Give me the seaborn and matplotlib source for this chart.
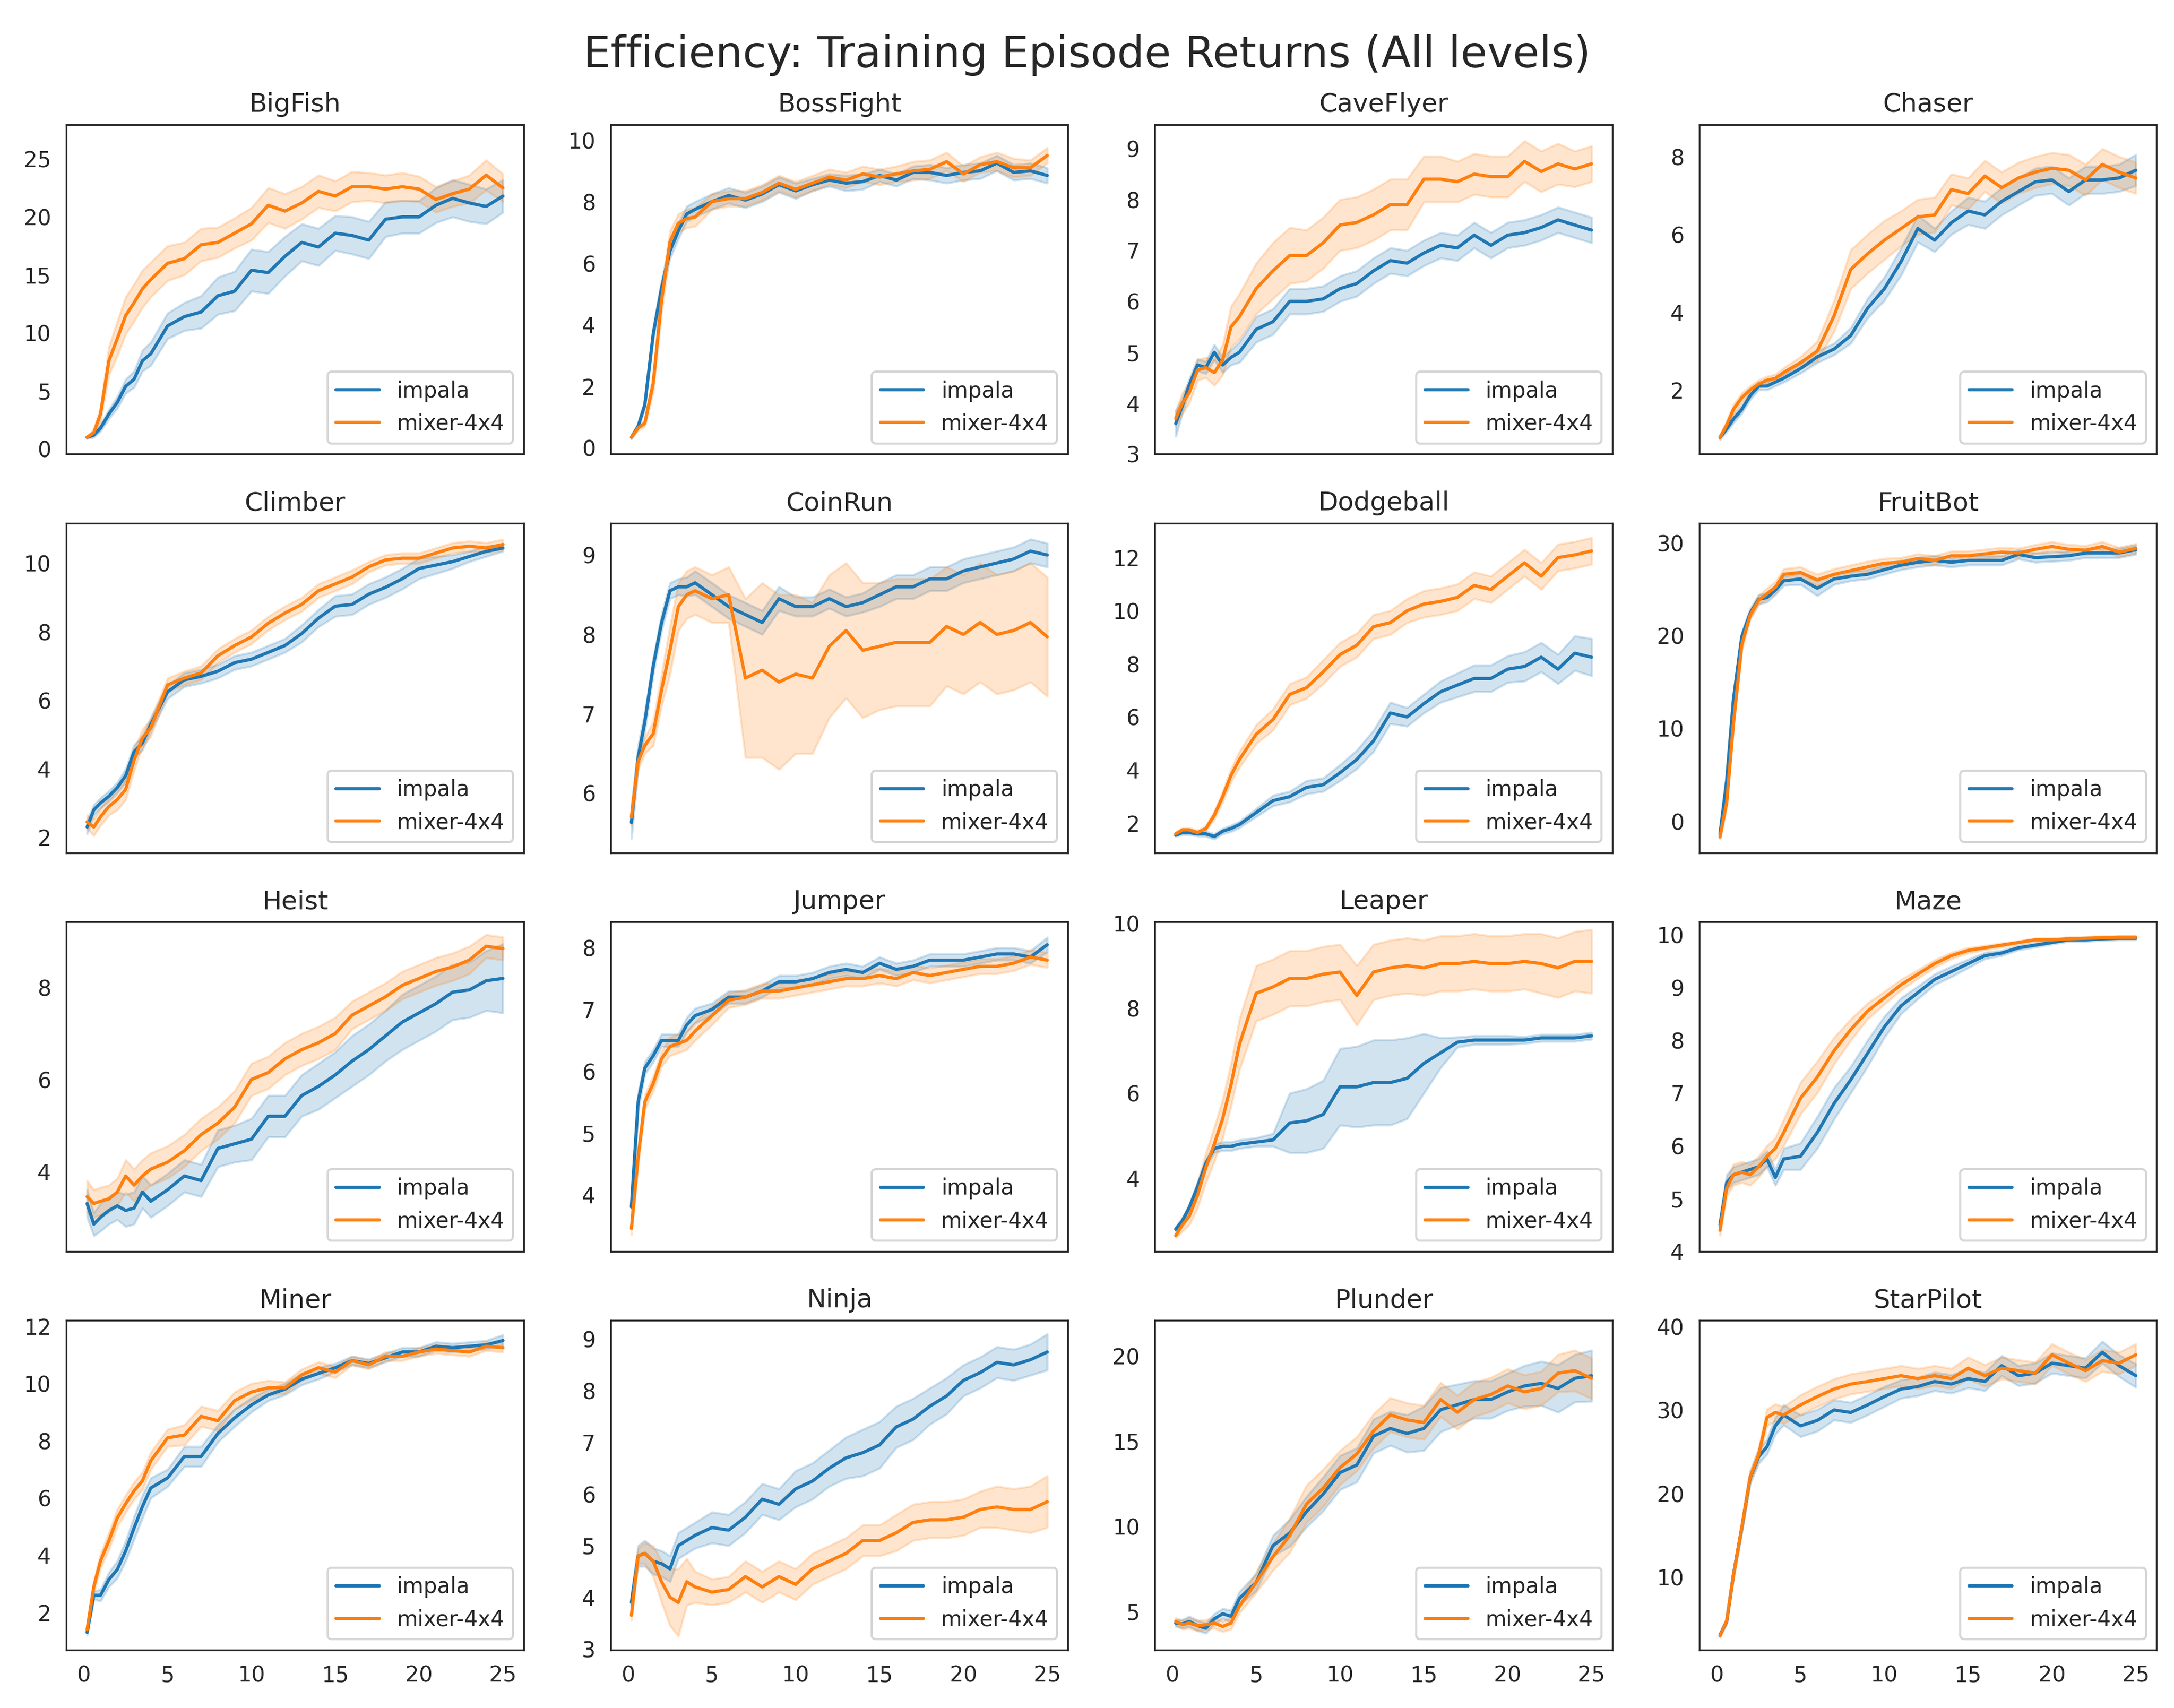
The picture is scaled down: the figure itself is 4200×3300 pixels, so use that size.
#!/usr/bin/env python3
"""
Procgen efficiency plot: training episode returns, impala vs mixer-4x4
"""

import pandas as pd
import matplotlib
matplotlib.use("Agg")
import matplotlib.pyplot as plt
import seaborn as sns

# environment steps (M) at which the curves were read
STEPS = [0.2, 0.6, 1, 1.5, 2, 2.5, 3, 3.5, 4, 5, 6, 7, 8, 9, 10,
         11, 12, 13, 14, 15, 16, 17, 18, 19, 20, 21, 22, 23, 24, 25]

AGENTS = ["impala", "mixer-4x4"]
ENVS = ["BigFish", "BossFight", "CaveFlyer", "Chaser",
        "Climber", "CoinRun", "Dodgeball", "FruitBot",
        "Heist", "Jumper", "Leaper", "Maze",
        "Miner", "Ninja", "Plunder", "StarPilot"]

# mean return and half width of the shaded band, per env and agent
bigfish_impala = [1.0, 1.2, 1.8, 3.0, 4.0, 5.4, 6.0, 7.6, 8.2, 10.6, 11.4, 11.8, 13.2, 13.6, 15.4,
                  15.2, 16.6, 17.8, 17.4, 18.6, 18.4, 18.0, 19.8, 20.0, 20.0, 21.0, 21.6, 21.2, 20.9, 21.8]
bigfish_impala_sd = [0.1, 0.2, 0.3, 0.4, 0.5, 0.6, 0.7, 0.9, 1.0, 1.1, 1.2, 1.4, 1.6, 1.7, 1.8,
                     1.8, 1.7, 1.6, 1.6, 1.5, 1.6, 1.6, 1.5, 1.4, 1.4, 1.5, 1.6, 1.6, 1.5, 1.4]
bigfish_mixer = [1.0, 1.4, 3.0, 7.6, 9.5, 11.5, 12.6, 13.8, 14.6, 16.0, 16.4, 17.6, 17.8, 18.6, 19.4,
                 21.0, 20.5, 21.2, 22.2, 21.8, 22.6, 22.6, 22.4, 22.6, 22.4, 21.5, 22.0, 22.4, 23.6, 22.5]
bigfish_mixer_sd = [0.1, 0.3, 0.6, 1.2, 1.5, 1.6, 1.6, 1.6, 1.5, 1.5, 1.4, 1.4, 1.3, 1.3, 1.4,
                    1.5, 1.5, 1.4, 1.4, 1.3, 1.3, 1.2, 1.2, 1.2, 1.1, 1.1, 1.1, 1.2, 1.3, 1.2]

bossfight_impala = [0.35, 0.7, 1.4, 3.7, 5.2, 6.4, 7.05, 7.6, 7.75, 8.0, 8.2, 8.05, 8.25, 8.55, 8.35,
                    8.55, 8.7, 8.6, 8.65, 8.85, 8.7, 8.95, 8.95, 8.85, 8.95, 9.0, 9.25, 8.95, 9.0, 8.85]
bossfight_impala_sd = [0.05, 0.08, 0.12, 0.2, 0.25, 0.25, 0.25, 0.25, 0.25, 0.25, 0.25, 0.25, 0.25, 0.25, 0.25,
                       0.2, 0.2, 0.25, 0.25, 0.2, 0.2, 0.2, 0.25, 0.25, 0.25, 0.25, 0.25, 0.25, 0.25, 0.25]
bossfight_mixer = [0.35, 0.65, 0.8, 2.1, 4.8, 6.7, 7.3, 7.45, 7.5, 8.0, 8.1, 8.1, 8.3, 8.6, 8.4,
                   8.6, 8.8, 8.7, 8.9, 8.8, 8.9, 9.0, 9.05, 9.3, 8.9, 9.2, 9.3, 9.1, 9.1, 9.5]
bossfight_mixer_sd = [0.05, 0.08, 0.1, 0.3, 0.4, 0.35, 0.3, 0.3, 0.3, 0.25, 0.25, 0.25, 0.25, 0.25, 0.25,
                      0.25, 0.25, 0.25, 0.25, 0.25, 0.25, 0.3, 0.3, 0.3, 0.25, 0.25, 0.3, 0.3, 0.25, 0.25]

caveflyer_impala = [3.6, 3.95, 4.35, 4.75, 4.7, 5.0, 4.75, 4.9, 5.0, 5.45, 5.6, 6.0, 6.0, 6.05, 6.25,
                    6.35, 6.6, 6.8, 6.75, 6.95, 7.1, 7.05, 7.3, 7.1, 7.3, 7.35, 7.45, 7.6, 7.5, 7.4]
caveflyer_impala_sd = [0.25, 0.15, 0.12, 0.12, 0.12, 0.15, 0.15, 0.15, 0.2, 0.25, 0.25, 0.25, 0.25, 0.25, 0.25,
                       0.25, 0.25, 0.25, 0.25, 0.25, 0.25, 0.25, 0.25, 0.25, 0.25, 0.25, 0.25, 0.25, 0.25, 0.25]
caveflyer_mixer = [3.7, 4.0, 4.2, 4.65, 4.7, 4.6, 4.85, 5.5, 5.7, 6.25, 6.6, 6.9, 6.9, 7.15, 7.5,
                   7.55, 7.7, 7.9, 7.9, 8.4, 8.4, 8.35, 8.5, 8.45, 8.45, 8.75, 8.55, 8.7, 8.6, 8.7]
caveflyer_mixer_sd = [0.15, 0.2, 0.2, 0.2, 0.2, 0.25, 0.3, 0.4, 0.45, 0.5, 0.55, 0.55, 0.5, 0.5, 0.5,
                      0.5, 0.5, 0.5, 0.5, 0.45, 0.45, 0.4, 0.4, 0.4, 0.4, 0.4, 0.4, 0.4, 0.35, 0.35]

chaser_impala = [0.78, 1.0, 1.25, 1.5, 1.85, 2.1, 2.1, 2.2, 2.3, 2.55, 2.85, 3.05, 3.4, 4.1, 4.6,
                 5.3, 6.15, 5.85, 6.3, 6.6, 6.5, 6.85, 7.1, 7.35, 7.4, 7.1, 7.4, 7.4, 7.45, 7.65]
chaser_impala_sd = [0.05, 0.08, 0.1, 0.1, 0.1, 0.1, 0.1, 0.1, 0.1, 0.12, 0.15, 0.15, 0.2, 0.25, 0.3,
                    0.35, 0.35, 0.3, 0.3, 0.35, 0.35, 0.35, 0.35, 0.35, 0.35, 0.35, 0.35, 0.35, 0.35, 0.4]
chaser_mixer = [0.78, 1.1, 1.5, 1.8, 2.0, 2.15, 2.25, 2.3, 2.45, 2.7, 3.0, 3.9, 5.1, 5.5, 5.85,
                6.15, 6.45, 6.5, 7.15, 7.05, 7.5, 7.2, 7.45, 7.6, 7.7, 7.65, 7.4, 7.8, 7.6, 7.45]
chaser_mixer_sd = [0.05, 0.1, 0.12, 0.12, 0.1, 0.1, 0.1, 0.1, 0.12, 0.15, 0.25, 0.4, 0.5, 0.5, 0.5,
                   0.45, 0.45, 0.45, 0.4, 0.4, 0.4, 0.4, 0.4, 0.4, 0.4, 0.4, 0.4, 0.4, 0.4, 0.4]

climber_impala = [2.3, 2.8, 3.0, 3.2, 3.45, 3.8, 4.5, 4.75, 5.3, 6.25, 6.6, 6.7, 6.85, 7.1, 7.2,
                  7.4, 7.6, 7.95, 8.4, 8.75, 8.8, 9.1, 9.3, 9.55, 9.85, 9.95, 10.05, 10.2, 10.35, 10.45]
climber_impala_sd = [0.2, 0.15, 0.15, 0.15, 0.15, 0.2, 0.2, 0.2, 0.2, 0.2, 0.2, 0.2, 0.2, 0.2, 0.2,
                     0.2, 0.2, 0.25, 0.25, 0.3, 0.3, 0.3, 0.3, 0.3, 0.3, 0.25, 0.2, 0.15, 0.15, 0.1]
climber_mixer = [2.45, 2.3, 2.6, 2.9, 3.1, 3.4, 4.25, 4.9, 5.2, 6.45, 6.65, 6.8, 7.3, 7.6, 7.85,
                 8.25, 8.55, 8.8, 9.2, 9.4, 9.6, 9.9, 10.1, 10.15, 10.15, 10.3, 10.45, 10.5, 10.45, 10.55]
climber_mixer_sd = [0.2, 0.25, 0.25, 0.25, 0.3, 0.3, 0.3, 0.25, 0.25, 0.2, 0.2, 0.2, 0.2, 0.2, 0.2,
                    0.2, 0.2, 0.2, 0.2, 0.2, 0.2, 0.15, 0.15, 0.15, 0.15, 0.15, 0.15, 0.15, 0.15, 0.15]

coinrun_impala = [5.63, 6.45, 6.9, 7.6, 8.15, 8.55, 8.6, 8.6, 8.65, 8.5, 8.35, 8.25, 8.15, 8.45, 8.35,
                  8.35, 8.45, 8.35, 8.4, 8.5, 8.6, 8.6, 8.7, 8.7, 8.8, 8.85, 8.9, 8.95, 9.05, 9.0]
coinrun_impala_sd = [0.2, 0.15, 0.12, 0.1, 0.1, 0.1, 0.1, 0.12, 0.15, 0.15, 0.15, 0.15, 0.15, 0.15, 0.12,
                     0.12, 0.12, 0.12, 0.12, 0.15, 0.15, 0.15, 0.15, 0.15, 0.15, 0.15, 0.15, 0.15, 0.15, 0.15]
coinrun_mixer = [5.7, 6.4, 6.6, 6.75, 7.3, 7.8, 8.35, 8.5, 8.55, 8.45, 8.5, 7.45, 7.55, 7.4, 7.5,
                 7.45, 7.85, 8.05, 7.8, 7.85, 7.9, 7.9, 7.9, 8.1, 8.0, 8.15, 8.0, 8.05, 8.15, 7.97]
coinrun_mixer_sd = [0.1, 0.1, 0.1, 0.15, 0.2, 0.3, 0.3, 0.3, 0.3, 0.3, 0.35, 1.0, 1.1, 1.1, 1.0,
                    0.95, 0.9, 0.85, 0.85, 0.8, 0.8, 0.8, 0.8, 0.75, 0.75, 0.75, 0.75, 0.75, 0.75, 0.75]

dodgeball_impala = [1.55, 1.65, 1.65, 1.6, 1.6, 1.5, 1.7, 1.8, 1.95, 2.4, 2.85, 3.0, 3.35, 3.45, 3.9,
                    4.4, 5.1, 6.15, 6.0, 6.5, 6.95, 7.2, 7.45, 7.45, 7.8, 7.9, 8.25, 7.8, 8.4, 8.25]
dodgeball_impala_sd = [0.05, 0.08, 0.08, 0.08, 0.1, 0.1, 0.1, 0.12, 0.12, 0.15, 0.2, 0.2, 0.25, 0.25, 0.3,
                       0.35, 0.4, 0.4, 0.35, 0.35, 0.4, 0.45, 0.5, 0.5, 0.5, 0.55, 0.55, 0.55, 0.65, 0.7]
dodgeball_mixer = [1.6, 1.75, 1.75, 1.65, 1.8, 2.3, 3.0, 3.8, 4.4, 5.35, 5.9, 6.85, 7.1, 7.7, 8.35,
                   8.7, 9.4, 9.55, 10.0, 10.25, 10.35, 10.5, 10.95, 10.8, 11.3, 11.8, 11.3, 12.0, 12.1, 12.25]
dodgeball_mixer_sd = [0.05, 0.08, 0.08, 0.08, 0.1, 0.15, 0.2, 0.25, 0.3, 0.35, 0.4, 0.4, 0.4, 0.45, 0.45,
                      0.45, 0.45, 0.45, 0.45, 0.5, 0.5, 0.5, 0.5, 0.5, 0.5, 0.5, 0.5, 0.5, 0.5, 0.5]

fruitbot_impala = [-1.4, 4.4, 13.1, 19.9, 22.4, 23.9, 24.1, 24.9, 25.9, 26.1, 25.1, 26.1, 26.4, 26.6, 27.1,
                   27.6, 27.9, 28.1, 27.9, 28.1, 28.1, 28.1, 28.75, 28.4, 28.5, 28.6, 28.9, 28.9, 28.9, 29.25]
fruitbot_impala_sd = [0.2, 0.5, 0.6, 0.5, 0.5, 0.5, 0.5, 0.5, 0.5, 0.6, 0.8, 0.6, 0.5, 0.5, 0.5,
                      0.5, 0.5, 0.5, 0.5, 0.5, 0.5, 0.5, 0.5, 0.5, 0.5, 0.5, 0.5, 0.5, 0.5, 0.5]
fruitbot_mixer = [-1.7, 2.0, 10.5, 19.0, 22.2, 23.8, 24.5, 25.2, 26.6, 26.8, 26.0, 26.6, 27.0, 27.4, 27.8,
                  27.9, 28.3, 28.1, 28.6, 28.6, 28.8, 29.0, 28.9, 29.3, 29.6, 29.3, 29.2, 29.6, 29.0, 29.4]
fruitbot_mixer_sd = [0.2, 0.5, 0.6, 0.6, 0.5, 0.5, 0.6, 0.6, 0.6, 0.6, 0.6, 0.6, 0.6, 0.6, 0.5,
                     0.5, 0.5, 0.5, 0.5, 0.5, 0.5, 0.5, 0.5, 0.5, 0.5, 0.5, 0.5, 0.5, 0.5, 0.5]

heist_impala = [3.3, 2.85, 3.0, 3.15, 3.25, 3.15, 3.2, 3.55, 3.35, 3.6, 3.9, 3.8, 4.5, 4.6, 4.7,
                5.2, 5.2, 5.65, 5.85, 6.1, 6.4, 6.65, 6.95, 7.25, 7.45, 7.65, 7.9, 7.95, 8.15, 8.2]
heist_impala_sd = [0.3, 0.25, 0.3, 0.3, 0.3, 0.35, 0.35, 0.35, 0.35, 0.35, 0.35, 0.35, 0.4, 0.4, 0.45,
                   0.45, 0.45, 0.45, 0.5, 0.5, 0.55, 0.55, 0.55, 0.6, 0.6, 0.6, 0.6, 0.6, 0.65, 0.75]
heist_mixer = [3.45, 3.3, 3.35, 3.4, 3.55, 3.9, 3.7, 3.9, 4.05, 4.2, 4.45, 4.8, 5.05, 5.4, 6.0,
               6.15, 6.45, 6.65, 6.8, 7.0, 7.4, 7.6, 7.8, 8.05, 8.2, 8.35, 8.45, 8.6, 8.9, 8.85]
heist_mixer_sd = [0.35, 0.3, 0.3, 0.3, 0.3, 0.35, 0.35, 0.35, 0.35, 0.35, 0.35, 0.35, 0.35, 0.35, 0.35,
                  0.35, 0.35, 0.35, 0.35, 0.35, 0.3, 0.3, 0.3, 0.3, 0.3, 0.3, 0.3, 0.3, 0.25, 0.25]

jumper_impala = [3.8, 5.5, 6.05, 6.25, 6.5, 6.5, 6.5, 6.75, 6.9, 7.0, 7.2, 7.2, 7.3, 7.45, 7.45,
                 7.5, 7.6, 7.65, 7.6, 7.75, 7.65, 7.7, 7.8, 7.8, 7.8, 7.85, 7.9, 7.9, 7.85, 8.05]
jumper_impala_sd = [0.2, 0.15, 0.1, 0.1, 0.1, 0.1, 0.1, 0.12, 0.12, 0.1, 0.1, 0.1, 0.1, 0.1, 0.1,
                    0.1, 0.1, 0.1, 0.1, 0.1, 0.1, 0.1, 0.1, 0.1, 0.1, 0.1, 0.1, 0.1, 0.1, 0.12]
jumper_mixer = [3.45, 4.6, 5.5, 5.8, 6.2, 6.4, 6.45, 6.5, 6.65, 6.9, 7.15, 7.2, 7.3, 7.3, 7.35,
                7.4, 7.45, 7.5, 7.5, 7.55, 7.5, 7.6, 7.55, 7.6, 7.65, 7.7, 7.7, 7.75, 7.85, 7.8]
jumper_mixer_sd = [0.1, 0.15, 0.12, 0.12, 0.12, 0.15, 0.15, 0.15, 0.15, 0.15, 0.12, 0.12, 0.12, 0.12, 0.12,
                   0.12, 0.12, 0.12, 0.12, 0.12, 0.12, 0.12, 0.12, 0.12, 0.12, 0.12, 0.12, 0.12, 0.12, 0.12]

leaper_impala = [2.8, 3.0, 3.3, 3.8, 4.35, 4.7, 4.75, 4.75, 4.8, 4.85, 4.9, 5.3, 5.35, 5.5, 6.15,
                 6.15, 6.25, 6.25, 6.35, 6.7, 6.95, 7.2, 7.25, 7.25, 7.25, 7.25, 7.3, 7.3, 7.3, 7.35]
leaper_impala_sd = [0.05, 0.08, 0.08, 0.1, 0.1, 0.1, 0.1, 0.1, 0.1, 0.1, 0.15, 0.7, 0.75, 0.8, 0.9,
                    0.95, 1.0, 1.0, 0.95, 0.7, 0.35, 0.12, 0.1, 0.1, 0.1, 0.08, 0.08, 0.08, 0.08, 0.08]
leaper_mixer = [2.65, 2.9, 3.1, 3.6, 4.25, 4.8, 5.4, 6.2, 7.15, 8.35, 8.5, 8.7, 8.7, 8.8, 8.85,
                8.3, 8.85, 8.95, 9.0, 8.95, 9.05, 9.05, 9.1, 9.05, 9.05, 9.1, 9.05, 8.95, 9.1, 9.1]
leaper_mixer_sd = [0.05, 0.15, 0.2, 0.3, 0.35, 0.4, 0.45, 0.5, 0.6, 0.65, 0.65, 0.65, 0.65, 0.65, 0.65,
                   0.7, 0.65, 0.65, 0.65, 0.65, 0.65, 0.65, 0.65, 0.65, 0.65, 0.65, 0.7, 0.7, 0.7, 0.75]

maze_impala = [4.5, 5.3, 5.45, 5.5, 5.55, 5.6, 5.75, 5.4, 5.75, 5.8, 6.25, 6.8, 7.25, 7.75, 8.25,
               8.65, 8.9, 9.15, 9.3, 9.45, 9.6, 9.65, 9.75, 9.8, 9.85, 9.9, 9.9, 9.92, 9.93, 9.93]
maze_impala_sd = [0.1, 0.15, 0.15, 0.15, 0.15, 0.15, 0.15, 0.15, 0.2, 0.25, 0.3, 0.3, 0.25, 0.25, 0.2,
                  0.15, 0.12, 0.1, 0.1, 0.08, 0.06, 0.05, 0.04, 0.04, 0.03, 0.03, 0.03, 0.03, 0.03, 0.03]
maze_mixer = [4.4, 5.2, 5.45, 5.5, 5.45, 5.6, 5.8, 5.95, 6.25, 6.9, 7.3, 7.8, 8.2, 8.55, 8.8,
              9.05, 9.25, 9.45, 9.6, 9.7, 9.75, 9.8, 9.85, 9.9, 9.9, 9.92, 9.93, 9.94, 9.95, 9.95]
maze_mixer_sd = [0.1, 0.15, 0.2, 0.2, 0.2, 0.2, 0.2, 0.2, 0.25, 0.3, 0.3, 0.25, 0.2, 0.15, 0.12,
                 0.1, 0.08, 0.07, 0.06, 0.05, 0.04, 0.04, 0.03, 0.03, 0.03, 0.03, 0.03, 0.03, 0.03, 0.03]

miner_impala = [1.3, 2.6, 2.6, 3.15, 3.5, 4.15, 4.95, 5.7, 6.35, 6.7, 7.45, 7.45, 8.25, 8.8, 9.25,
                9.6, 9.8, 10.15, 10.35, 10.55, 10.8, 10.7, 10.9, 11.1, 11.1, 11.3, 11.25, 11.3, 11.35, 11.5]
miner_impala_sd = [0.1, 0.15, 0.2, 0.25, 0.3, 0.35, 0.4, 0.4, 0.35, 0.3, 0.35, 0.35, 0.3, 0.3, 0.25,
                   0.2, 0.2, 0.2, 0.2, 0.15, 0.15, 0.15, 0.15, 0.15, 0.15, 0.15, 0.15, 0.15, 0.15, 0.2]
miner_mixer = [1.4, 2.9, 3.8, 4.5, 5.3, 5.8, 6.25, 6.6, 7.3, 8.1, 8.2, 8.85, 8.7, 9.4, 9.7,
               9.85, 9.85, 10.3, 10.55, 10.4, 10.8, 10.65, 10.95, 10.95, 11.1, 11.2, 11.15, 11.1, 11.3, 11.25]
miner_mixer_sd = [0.1, 0.2, 0.25, 0.3, 0.3, 0.3, 0.3, 0.3, 0.3, 0.3, 0.35, 0.35, 0.35, 0.3, 0.3,
                  0.25, 0.2, 0.2, 0.2, 0.2, 0.15, 0.15, 0.15, 0.15, 0.15, 0.15, 0.15, 0.15, 0.15, 0.15]

ninja_impala = [3.9, 4.8, 4.85, 4.7, 4.65, 4.55, 5.0, 5.1, 5.2, 5.35, 5.3, 5.55, 5.9, 5.8, 6.1,
                6.25, 6.5, 6.7, 6.8, 6.95, 7.3, 7.45, 7.7, 7.9, 8.2, 8.35, 8.55, 8.5, 8.6, 8.75]
ninja_impala_sd = [0.15, 0.2, 0.25, 0.25, 0.25, 0.25, 0.25, 0.25, 0.25, 0.3, 0.3, 0.3, 0.3, 0.3, 0.35,
                   0.35, 0.35, 0.4, 0.45, 0.45, 0.4, 0.4, 0.35, 0.35, 0.3, 0.3, 0.3, 0.3, 0.3, 0.35]
ninja_mixer = [3.65, 4.8, 4.85, 4.7, 4.3, 4.0, 3.9, 4.3, 4.2, 4.1, 4.15, 4.4, 4.2, 4.4, 4.25,
               4.55, 4.7, 4.85, 5.1, 5.1, 5.25, 5.45, 5.5, 5.5, 5.55, 5.7, 5.75, 5.7, 5.7, 5.85]
ninja_mixer_sd = [0.1, 0.15, 0.2, 0.3, 0.4, 0.55, 0.65, 0.45, 0.3, 0.25, 0.25, 0.3, 0.3, 0.3, 0.3,
                  0.3, 0.3, 0.3, 0.3, 0.3, 0.35, 0.35, 0.35, 0.35, 0.35, 0.35, 0.4, 0.4, 0.45, 0.5]

plunder_impala = [4.3, 4.25, 4.4, 4.15, 4.0, 4.55, 4.85, 4.7, 5.75, 6.7, 8.85, 9.6, 10.85, 11.9, 13.15,
                  13.6, 15.3, 15.75, 15.45, 15.75, 16.85, 17.15, 17.45, 17.45, 17.9, 18.25, 18.4, 18.1, 18.7, 18.85]
plunder_impala_sd = [0.2, 0.25, 0.3, 0.3, 0.3, 0.3, 0.3, 0.35, 0.4, 0.5, 0.6, 0.8, 0.9, 1.0, 1.0,
                     1.0, 1.0, 1.0, 1.1, 1.3, 1.3, 1.2, 1.1, 1.1, 1.1, 1.2, 1.3, 1.4, 1.4, 1.5]
plunder_mixer = [4.4, 4.2, 4.3, 4.15, 4.2, 4.3, 4.1, 4.3, 5.3, 6.7, 8.2, 9.45, 11.3, 12.25, 13.45,
                 14.25, 15.6, 16.55, 16.25, 16.1, 17.45, 16.7, 17.45, 17.75, 18.25, 17.9, 18.1, 19.0, 19.15, 18.7]
plunder_mixer_sd = [0.2, 0.25, 0.3, 0.3, 0.3, 0.3, 0.3, 0.35, 0.4, 0.6, 0.8, 1.0, 1.1, 1.1, 1.0,
                    1.0, 1.0, 1.0, 1.0, 1.0, 1.0, 1.0, 1.0, 1.0, 1.0, 1.0, 1.0, 1.1, 1.2, 1.2]

starpilot_impala = [3.1, 4.7, 10.3, 15.9, 21.9, 24.4, 25.6, 28.1, 29.4, 28.1, 28.75, 30.0, 29.7, 30.6, 31.6,
                    32.5, 32.8, 33.4, 33.1, 33.75, 33.4, 35.3, 34.1, 34.4, 35.6, 35.3, 35.0, 36.9, 35.3, 34.1]
starpilot_impala_sd = [0.2, 0.3, 0.5, 0.6, 0.7, 0.8, 0.9, 1.0, 1.2, 1.3, 1.3, 1.2, 1.2, 1.2, 1.2,
                       1.1, 1.1, 1.1, 1.1, 1.1, 1.1, 1.2, 1.2, 1.2, 1.2, 1.2, 1.2, 1.3, 1.3, 1.4]
starpilot_mixer = [3.0, 4.8, 10.2, 16.0, 22.0, 24.6, 29.1, 29.7, 29.4, 30.6, 31.6, 32.5, 33.1, 33.4, 33.75,
                   34.1, 33.75, 34.1, 33.75, 35.0, 34.1, 35.0, 34.7, 34.4, 36.6, 35.6, 34.7, 35.9, 35.6, 36.6]
starpilot_mixer_sd = [0.2, 0.3, 0.5, 0.6, 0.7, 0.8, 1.0, 1.0, 1.0, 1.2, 1.2, 1.2, 1.2, 1.2, 1.2,
                      1.2, 1.2, 1.2, 1.2, 1.3, 1.3, 1.3, 1.3, 1.3, 1.3, 1.3, 1.3, 1.3, 1.3, 1.3]

CURVES = {
    "BigFish": (bigfish_impala, bigfish_impala_sd, bigfish_mixer, bigfish_mixer_sd),
    "BossFight": (bossfight_impala, bossfight_impala_sd, bossfight_mixer, bossfight_mixer_sd),
    "CaveFlyer": (caveflyer_impala, caveflyer_impala_sd, caveflyer_mixer, caveflyer_mixer_sd),
    "Chaser": (chaser_impala, chaser_impala_sd, chaser_mixer, chaser_mixer_sd),
    "Climber": (climber_impala, climber_impala_sd, climber_mixer, climber_mixer_sd),
    "CoinRun": (coinrun_impala, coinrun_impala_sd, coinrun_mixer, coinrun_mixer_sd),
    "Dodgeball": (dodgeball_impala, dodgeball_impala_sd, dodgeball_mixer, dodgeball_mixer_sd),
    "FruitBot": (fruitbot_impala, fruitbot_impala_sd, fruitbot_mixer, fruitbot_mixer_sd),
    "Heist": (heist_impala, heist_impala_sd, heist_mixer, heist_mixer_sd),
    "Jumper": (jumper_impala, jumper_impala_sd, jumper_mixer, jumper_mixer_sd),
    "Leaper": (leaper_impala, leaper_impala_sd, leaper_mixer, leaper_mixer_sd),
    "Maze": (maze_impala, maze_impala_sd, maze_mixer, maze_mixer_sd),
    "Miner": (miner_impala, miner_impala_sd, miner_mixer, miner_mixer_sd),
    "Ninja": (ninja_impala, ninja_impala_sd, ninja_mixer, ninja_mixer_sd),
    "Plunder": (plunder_impala, plunder_impala_sd, plunder_mixer, plunder_mixer_sd),
    "StarPilot": (starpilot_impala, starpilot_impala_sd, starpilot_mixer, starpilot_mixer_sd),
}

# y ranges of each panel (the original's noisy peaks stretched these)
YLIMS = {
    "BigFish": (-0.45, 27.95), "BossFight": (-0.2, 10.5), "CaveFlyer": (3.0, 9.47),
    "Chaser": (0.35, 8.82), "Climber": (1.55, 11.17), "CoinRun": (5.25, 9.4),
    "Dodgeball": (0.89, 13.29), "FruitBot": (-3.4, 32.1), "Heist": (2.26, 9.43),
    "Jumper": (3.08, 8.42), "Leaper": (2.28, 10.03), "Maze": (4.0, 10.24),
    "Miner": (0.69, 12.2), "Ninja": (2.98, 9.36), "Plunder": (2.72, 22.1),
    "StarPilot": (1.3, 40.7),
}


def env_frame(env):
    """Long table with low / mean / high rows per step so seaborn draws line + band"""
    imp, imp_sd, mix, mix_sd = CURVES[env]
    rows = []
    for agent, mean, sd in [(AGENTS[0], imp, imp_sd), (AGENTS[1], mix, mix_sd)]:
        for x, m, s in zip(STEPS, mean, sd):
            for v in (m - s, m, m + s):
                rows.append({"step": x, "return": v, "agent": agent})
    return pd.DataFrame(rows)


def main():
    sns.set_style("white")

    fig, axes = plt.subplots(4, 4, figsize=(14, 11), sharex=True)
    fig.subplots_adjust(left=0.0305, right=0.992, top=0.927, bottom=0.034,
                        wspace=0.19, hspace=0.21)

    for ax, env in zip(axes.flat, ENVS):
        df = env_frame(env)
        sns.lineplot(data=df, x="step", y="return", hue="agent", hue_order=AGENTS,
                     palette=["tab:blue", "tab:orange"], estimator="mean",
                     errorbar=lambda v: (v.min(), v.max()), ax=ax)
        ax.set_title(env, fontsize=12)
        ax.set_xlabel("")
        ax.set_ylabel("")
        ax.set_ylim(*YLIMS[env])
        ax.set_xticks([0, 5, 10, 15, 20, 25])
        sns.move_legend(ax, "lower right", title=None, fontsize=10)

    fig.suptitle("Efficiency: Training Episode Returns (All levels)", fontsize=20)
    fig.savefig("out.png", dpi=300)


if __name__ == "__main__":
    main()
